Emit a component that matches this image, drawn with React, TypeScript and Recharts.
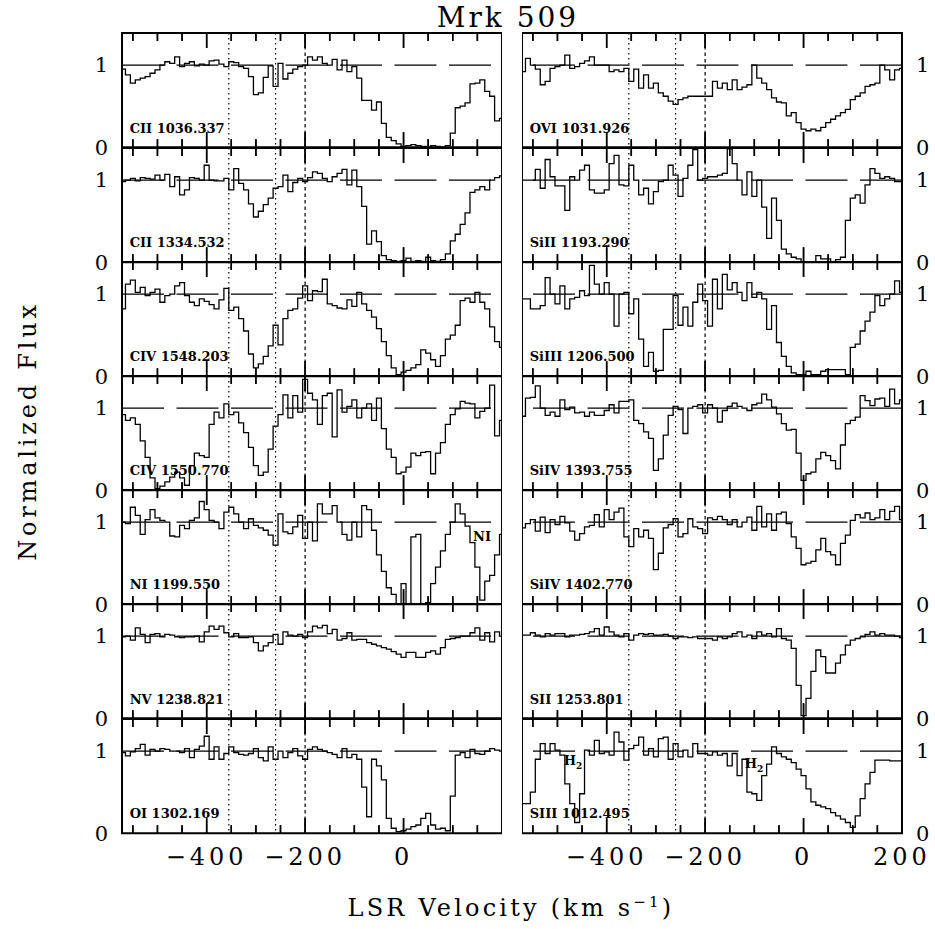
import { ComposedChart, Line, Scatter, XAxis, YAxis, ReferenceLine, ReferenceArea } from "recharts";

// velocity grid (km/s), shared by every panel
const VEL = [
  -570, -560, -550, -540, -530, -520, -510, -500, -490, -480,
  -470, -460, -450, -440, -430, -420, -410, -400, -390, -380,
  -370, -360, -350, -340, -330, -320, -310, -300, -290, -280,
  -270, -260, -250, -240, -230, -220, -210, -200, -190, -180,
  -170, -160, -150, -140, -130, -120, -110, -100, -90, -80,
  -70, -60, -50, -40, -30, -20, -10, 0, 10, 20,
  30, 40, 50, 60, 70, 80, 90, 100, 110, 120,
  130, 140, 150, 160, 170, 180, 190, 200,
];

const CII_1036 = [
  0.95, 0.88, 0.78, 0.82, 0.84, 0.86, 0.9, 0.94, 1.0, 1.04,
  1.02, 1.1, 0.98, 1.02, 1.04, 0.99, 1.01, 1.0, 1.05, 1.06,
  1.01, 0.98, 1.04, 1.03, 0.98, 0.96, 0.86, 0.64, 0.66, 0.85,
  0.99, 0.74, 1.02, 0.83, 0.9, 0.95, 0.98, 1.0, 1.1, 1.06,
  1.1, 1.02, 1.0, 1.07, 0.94, 1.06, 0.92, 0.98, 0.84, 0.57,
  0.57, 0.45, 0.55, 0.29, 0.12, 0.08, 0.04, 0.01, 0.02, 0.03,
  0.02, 0.01, 0.0, 0.02, 0.01, 0.0, 0.02, 0.17, 0.48, 0.5,
  0.54, 0.77, 0.78, 0.82, 0.68, 0.62, 0.32, 0.35,
];
const CII_1334 = [
  0.98, 1.0, 1.02, 0.99, 1.03, 1.02, 1.01, 1.06, 1.0, 1.07,
  0.92, 1.04, 0.82, 0.88, 1.03, 1.02, 1.0, 1.18, 1.0, 0.99,
  0.99, 1.02, 0.88, 1.14, 0.96, 0.88, 0.71, 0.55, 0.62, 0.7,
  0.78, 0.9, 0.92, 1.06, 0.86, 0.97, 1.02, 0.98, 1.03, 1.1,
  1.08, 1.02, 0.98, 1.04, 1.08, 1.13, 0.94, 1.12, 0.92, 0.68,
  0.22, 0.38, 0.25, 0.08, 0.03, 0.02, 0.01, 0.02, 0.05, 0.01,
  0.02, 0.01, 0.06, 0.02, 0.01, 0.03, 0.1, 0.26, 0.34, 0.46,
  0.6, 0.85, 0.88, 0.92, 0.88, 1.0, 1.03, 1.05,
];
const CIV_1548 = [
  0.82, 1.12, 1.17, 1.02, 1.08, 0.98, 1.02, 1.06, 0.9, 0.98,
  1.0, 1.1, 1.14, 0.98, 0.9, 0.86, 0.94, 0.91, 0.87, 0.82,
  0.93, 1.07, 0.8, 0.84, 0.7, 0.55, 0.27, 0.1, 0.15, 0.24,
  0.37, 0.62, 0.38, 0.7, 0.8, 0.82, 0.95, 1.1, 0.92, 1.04,
  1.03, 1.18, 0.88, 0.86, 0.83, 0.82, 0.93, 0.85, 1.02, 0.88,
  0.8, 0.72, 0.58, 0.42, 0.25, 0.1, 0.02, 0.05, 0.07, 0.1,
  0.14, 0.32, 0.28, 0.2, 0.12, 0.25, 0.45, 0.5, 0.62, 0.92,
  0.95, 0.9, 1.02, 0.9, 0.82, 0.6, 0.42, 0.35,
];
const CIV_1550 = [
  0.92, 0.85, 0.88, 0.8, 0.6, 0.4, 0.15, 0.02, 0.05, 0.1,
  0.16, 0.22, 0.15, 0.06, 0.3, 0.45, 0.42, 0.4, 0.8, 0.95,
  0.88, 1.05, 0.92, 0.95, 0.82, 0.7, 0.52, 0.3, 0.18, 0.22,
  0.5, 0.78, 0.92, 1.16, 0.88, 1.15, 0.95, 1.35, 1.18, 1.1,
  0.8, 1.15, 1.18, 0.65, 1.22, 0.95, 1.02, 1.1, 0.88, 1.0,
  1.05, 0.85, 1.12, 0.75, 0.5, 0.4, 0.2, 0.22, 0.28, 0.45,
  0.42, 0.46, 0.47, 0.2, 0.45, 0.58, 0.8, 0.92, 0.99, 1.08,
  1.06, 1.05, 0.88, 0.96, 1.0, 1.28, 0.66, 0.85,
];
const NI_1199 = [
  1.0, 0.98, 1.18, 1.08, 0.85, 1.03, 1.15, 1.05, 1.02, 1.0,
  0.83, 0.82, 0.96, 0.92, 1.02, 1.05, 1.25, 1.15, 1.02, 1.0,
  0.92, 1.12, 1.18, 1.1, 1.0, 0.92, 1.04, 0.96, 0.93, 0.9,
  0.84, 0.72, 1.1, 0.88, 0.86, 0.94, 1.08, 0.8, 1.0, 0.77,
  1.22, 1.1, 1.1, 1.2, 1.0, 0.85, 0.78, 1.0, 0.82, 1.2,
  1.15, 0.9, 0.6, 0.4, 0.2, 0.12, 0.0, 0.25, 0.0, 0.82,
  0.85, 0.0, 0.02, 0.25, 0.45, 0.65, 0.85, 1.0, 1.22, 1.1,
  0.95, 0.75, 0.45, 0.05, 0.28, 0.35, 0.6, 0.85,
];
const NV_1238 = [
  0.99, 1.0, 0.95, 1.1, 1.02, 0.92, 1.02, 1.03, 0.99, 1.02,
  1.01, 0.99, 0.98, 0.99, 0.99, 1.0, 0.93, 1.05, 1.12, 1.08,
  1.12, 1.04, 0.99, 1.03, 0.98, 0.98, 0.99, 0.92, 0.82, 0.88,
  0.92, 1.02, 0.9, 1.05, 1.01, 1.0, 1.02, 0.98, 1.05, 1.12,
  1.1, 1.13, 1.03, 1.08, 0.95, 0.97, 1.04, 0.95, 0.96, 0.96,
  0.92, 0.9, 0.88, 0.86, 0.84, 0.81, 0.78, 0.74, 0.8, 0.8,
  0.74, 0.74, 0.8, 0.82, 0.78, 0.86, 0.96, 0.97, 0.98, 1.0,
  1.0, 1.04, 1.1, 0.95, 1.04, 0.93, 1.05, 1.0,
];
const OI_1302 = [
  0.98, 0.94, 0.99, 1.03, 1.08, 0.95, 1.02, 1.0, 1.03, 1.02,
  1.0, 1.0, 0.98, 1.03, 0.92, 1.02, 1.06, 1.18, 0.9, 1.05,
  0.9, 0.97, 1.05, 0.98, 0.96, 0.95, 0.97, 1.03, 0.92, 0.88,
  1.05, 0.9, 1.0, 0.92, 0.98, 1.03, 0.94, 0.9, 1.02, 1.05,
  1.02, 1.0, 0.98, 0.96, 0.92, 1.03, 0.92, 0.96, 0.9, 0.56,
  0.2, 0.9, 0.82, 0.65, 0.18, 0.06, 0.02, 0.03, 0.05, 0.08,
  0.1, 0.18, 0.24, 0.1, 0.05, 0.06, 0.03, 0.45, 0.95, 0.98,
  0.92, 1.02, 0.97, 0.96, 1.0, 1.03, 1.01, 1.0,
];
const OVI_1031 = [
  0.92, 1.08, 1.0, 0.95, 0.76, 0.8, 0.96, 0.98, 1.0, 1.12,
  0.96, 0.98, 1.02, 1.05, 1.1, 1.0, 1.0, 1.0, 0.92, 0.94,
  0.92, 0.96, 0.8, 0.95, 0.72, 0.88, 0.72, 0.78, 0.66, 0.62,
  0.56, 0.52, 0.58, 0.6, 0.62, 0.62, 0.62, 0.62, 0.62, 0.8,
  0.72, 0.78, 0.7, 0.82, 0.7, 0.73, 0.76, 1.0, 0.84, 0.78,
  0.7, 0.6, 0.55, 0.54, 0.38, 0.42, 0.3, 0.22, 0.2, 0.22,
  0.2, 0.24, 0.3, 0.34, 0.38, 0.42, 0.46, 0.58, 0.62, 0.66,
  0.74, 0.76, 0.78, 1.0, 0.94, 0.82, 0.94, 0.96,
];
const SIII_1193 = [
  1.0, 1.0, 1.0, 1.13, 0.9, 1.25, 1.04, 0.93, 0.93, 0.63,
  1.04, 1.0, 1.12, 1.18, 0.88, 0.84, 0.84, 0.88, 1.2, 1.3,
  0.94, 0.93, 1.18, 1.0, 0.82, 0.9, 0.71, 0.86, 0.98, 1.0,
  1.18, 1.06, 0.8, 1.02, 1.18, 1.37, 1.0, 1.02, 1.04, 1.04,
  1.06, 1.08, 1.38, 1.2, 1.0, 0.82, 1.1, 0.8, 1.0, 0.67,
  0.29, 0.78, 0.51, 0.16, 0.1, 0.06, 0.04, 0.0, 0.0, 0.0,
  0.08, 0.04, 0.04, 0.0, 0.03, 0.06, 0.51, 0.78, 0.82, 0.72,
  0.94, 1.14, 1.08, 1.02, 1.04, 1.02, 0.98, 0.98,
];
const SIIII_1206 = [
  0.94, 0.94, 0.82, 0.82, 0.86, 1.2, 1.0, 0.88, 1.1, 0.82,
  0.94, 0.96, 1.04, 0.98, 1.35, 1.12, 1.0, 1.14, 1.0, 0.61,
  1.0, 1.02, 0.76, 0.94, 0.45, 0.12, 0.29, 0.06, 0.07, 0.57,
  0.57, 0.98, 0.62, 0.84, 0.61, 0.9, 1.12, 0.92, 0.61, 1.18,
  0.82, 1.24, 1.05, 1.14, 1.02, 0.92, 1.14, 0.96, 1.02, 0.94,
  0.57, 0.86, 0.41, 0.24, 0.12, 0.04, 0.02, 0.02, 0.06, 0.02,
  0.02, 0.06, 0.08, 0.08, 0.08, 0.08, 0.02, 0.35, 0.39, 0.55,
  0.67, 0.78, 0.98, 0.86, 0.94, 1.0, 1.16, 1.02,
];
const SIIV_1393 = [
  0.9, 1.12, 1.13, 1.27, 1.0, 0.91, 0.95, 0.9, 1.1, 0.98,
  1.01, 0.94, 0.95, 0.9, 0.95, 0.91, 0.91, 0.97, 1.04, 0.94,
  1.08, 1.08, 1.1, 0.85, 0.81, 0.71, 0.63, 0.24, 0.38, 0.67,
  0.91, 1.02, 0.98, 0.69, 1.0, 1.02, 1.04, 0.94, 1.04, 1.0,
  0.83, 0.97, 1.02, 1.06, 1.02, 1.0, 0.97, 1.04, 1.06, 1.17,
  1.1, 1.01, 0.93, 0.81, 0.73, 0.74, 0.45, 0.12, 0.2, 0.22,
  0.38, 0.46, 0.42, 0.36, 0.26, 0.55, 0.81, 0.85, 0.89, 1.15,
  1.09, 1.03, 1.11, 1.12, 1.02, 1.23, 1.05, 1.1,
];
const SIIV_1402 = [
  0.93, 0.98, 1.03, 0.89, 1.06, 0.87, 1.03, 0.97, 1.07, 0.99,
  0.89, 0.78, 0.86, 0.94, 0.96, 1.09, 0.94, 1.15, 1.03, 1.12,
  1.17, 0.82, 0.7, 0.92, 0.82, 0.9, 0.8, 0.42, 0.62, 0.93,
  0.97, 1.04, 0.82, 0.86, 1.04, 0.94, 0.92, 0.86, 1.05, 1.03,
  1.07, 1.03, 0.97, 1.03, 0.94, 1.0, 1.06, 0.9, 1.19, 0.94,
  1.1, 0.9, 1.1, 1.12, 0.98, 0.82, 0.68, 0.48, 0.5, 0.52,
  0.66, 0.8, 0.64, 0.6, 0.48, 0.74, 0.84, 1.02, 1.09, 1.05,
  1.11, 1.03, 1.05, 1.15, 1.03, 1.13, 1.19, 1.03,
];
const SII_1253 = [
  1.01, 1.01, 1.04, 1.01, 0.99, 1.03, 1.01, 1.03, 1.03, 0.99,
  1.01, 1.01, 1.02, 1.03, 1.05, 1.09, 1.01, 1.11, 1.05, 1.01,
  0.99, 1.03, 0.95, 1.01, 1.03, 1.02, 1.03, 1.01, 1.01, 1.02,
  1.0, 0.97, 0.99, 0.99, 0.98, 0.99, 0.97, 0.97, 0.97, 0.95,
  0.99, 0.97, 0.99, 1.03, 1.05, 0.99, 1.01, 0.97, 1.05, 1.01,
  1.03, 0.99, 1.09, 0.97, 0.95, 0.85, 0.4, 0.03, 0.24, 0.57,
  0.83, 0.75, 0.55, 0.55, 0.67, 0.77, 0.89, 0.95, 0.97, 0.99,
  1.02, 1.05, 1.01, 1.03, 1.01, 1.01, 1.0, 0.98,
];
const SIII_1012 = [
  0.36, 0.36, 0.5, 0.9, 1.09, 0.97, 1.09, 1.01, 0.95, 0.6,
  0.36, 0.13, 0.48, 1.01, 0.95, 1.13, 0.97, 0.99, 0.95, 1.23,
  1.11, 0.89, 1.03, 1.07, 1.17, 0.95, 1.03, 0.93, 1.15, 1.17,
  0.9, 1.09, 0.93, 1.01, 0.93, 1.09, 0.97, 0.97, 0.95, 0.99,
  0.95, 0.97, 0.82, 0.97, 0.7, 0.9, 0.5, 0.48, 0.4, 0.7,
  0.84, 1.05, 0.97, 0.93, 0.9, 0.86, 0.78, 0.7, 0.54, 0.38,
  0.34, 0.32, 0.3, 0.25, 0.21, 0.17, 0.13, 0.07, 0.21, 0.42,
  0.6, 0.74, 0.89, 0.89, 0.89, 0.88, 0.88, 0.88,
];

const LEFT = [
  { label: "CII 1036.337", flux: CII_1036 },
  { label: "CII 1334.532", flux: CII_1334 },
  { label: "CIV 1548.203", flux: CIV_1548 },
  { label: "CIV 1550.770", flux: CIV_1550 },
  { label: "NI 1199.550", flux: NI_1199 },
  { label: "NV 1238.821", flux: NV_1238 },
  { label: "OI 1302.169", flux: OI_1302 },
];
const RIGHT = [
  { label: "OVI 1031.926", flux: OVI_1031 },
  { label: "SiII 1193.290", flux: SIII_1193 },
  { label: "SiIII 1206.500", flux: SIIII_1206 },
  { label: "SiIV 1393.755", flux: SIIV_1393 },
  { label: "SiIV 1402.770", flux: SIIV_1402 },
  { label: "SII 1253.801", flux: SII_1253 },
  { label: "SIII 1012.495", flux: SIII_1012 },
];

const TICKS = [-550, -500, -450, -400, -350, -300, -250, -200, -150, -100, -50, 0, 50, 100, 150];
const MAJOR = [-400, -200, 0];
const MARKS = [-355, -260, -200];
const XMIN = -572;
const XMAX = 200;
const YMAX = 1.39;

const SERIF = "'DejaVu Serif', serif";
const PW = 380;
const PH = 114.2;
const TOP0 = 33.3;
const LX = 121.7;
const RX = 521.7;
const YW_L = 40;
const YW_R = 33;
const LAB_H = 45;
const PAD = 14; // room above/below so the 0/1 labels on the borders are not clipped
const PX = PH / YMAX; // pixels per flux unit, for tick lengths

const minus = (v: number) => (v < 0 ? "\u2212" + Math.abs(v) : String(v));

// inward tick marks along the bottom (y=0) and top (y=YMAX) edges
const BOT_TICKS = TICKS.map((t) => ({ v: t, f: 0 }));
const TOP_TICKS = TICKS.map((t) => ({ v: t, f: YMAX }));
const tickLen = (v: number) => (MAJOR.includes(v) ? 15 : 8);
const botShape = (s: any) => (
  <line x1={s.cx} x2={s.cx} y1={s.cy} y2={s.cy - tickLen(s.payload.v)} stroke="#000" strokeWidth={1.5} />
);
const topShape = (s: any) => (
  <line x1={s.cx} x2={s.cx} y1={s.cy} y2={s.cy + tickLen(s.payload.v)} stroke="#000" strokeWidth={1.5} />
);

function Panel({ p, side, row }: { p: { label: string; flux: number[] }; side: "L" | "R"; row: number }) {
  const data = VEL.map((v, i) => ({ v, f: p.flux[i] }));
  const last = row === 6;
  const yw = side === "L" ? YW_L : YW_R;
  const left = side === "L" ? LX - yw : RX;
  return (
    <div style={{ position: "absolute", left, top: TOP0 + row * PH - PAD }}>
      <ComposedChart
        width={PW + yw}
        height={PH + PAD + (last ? LAB_H : PAD)}
        data={data}
        margin={{ top: PAD, right: 0, bottom: last ? 0 : PAD, left: 0 }}
      >
        <XAxis dataKey="v" type="number" domain={[XMIN, XMAX]} allowDataOverflow hide orientation="top" height={0} />
        {last && (
          <XAxis xAxisId="lab" dataKey="v" type="number" domain={[XMIN, XMAX]} allowDataOverflow orientation="bottom"
            height={LAB_H} ticks={side === "L" ? [-400, -200, 0] : [-400, -200, 0, 200]} interval={0}
            tickSize={0} tickMargin={15} axisLine={false} tickLine={false} tickFormatter={minus}
            tick={{ fontSize: 24, fill: "#000", fontFamily: SERIF, letterSpacing: 4 }} />
        )}
        <YAxis type="number" domain={[0, YMAX]} orientation={side === "L" ? "left" : "right"} width={yw}
          ticks={[0, 1]} interval={0} tickSize={0} tickMargin={14} axisLine={false} tickLine={false}
          tick={{ fontSize: 21, fill: "#000", fontFamily: SERIF }} />
        <ReferenceLine y={1} stroke="#000" strokeWidth={1.2} strokeDasharray="42 12.5" />
        {MARKS.map((m, i) => (
          <ReferenceLine key={m} x={m} stroke="#000" strokeWidth={1.2} strokeDasharray={i === 2 ? "3.5 3" : "1.5 3.5"} />
        ))}
        {TICKS.map((t) => (
          <ReferenceLine key={"rb" + t} ifOverflow="visible" stroke="#000" strokeWidth={1.5}
            segment={[{ x: t, y: 0 }, { x: t, y: tickLen(t) / PX }]} />
        ))}
        {TICKS.map((t) => (
          <ReferenceLine key={"rt" + t} ifOverflow="visible" stroke="#000" strokeWidth={1.5}
            segment={[{ x: t, y: YMAX }, { x: t, y: YMAX - tickLen(t) / PX }]} />
        ))}
        <Scatter data={BOT_TICKS} dataKey="f" shape={botShape} isAnimationActive={false} />
        <Scatter data={TOP_TICKS} dataKey="f" shape={topShape} isAnimationActive={false} />
        <Line dataKey="f" type="step" dot={false} stroke="#000" strokeWidth={1.3} isAnimationActive={false} />
        <ReferenceArea x1={XMIN} x2={XMAX} y1={0} y2={YMAX} fill="none" stroke="#000" strokeWidth={2} ifOverflow="visible" />
      </ComposedChart>
    </div>
  );
}

export default function App() {
  return (
    <div style={{ position: "absolute", left: 0, top: 0, width: 935, height: 929, background: "#fff", overflow: "hidden" }}>
      {LEFT.map((p, i) => <Panel key={p.label} p={p} side="L" row={i} />)}
      {RIGHT.map((p, i) => <Panel key={p.label} p={p} side="R" row={i} />)}
      <svg width={935} height={929} style={{ position: "absolute", left: 0, top: 0, pointerEvents: "none" }} fontFamily={SERIF}>
        <text x={508} y={27} textAnchor="middle" fontSize={28} letterSpacing={3}>Mrk 509</text>
        <text x={511} y={916} textAnchor="middle" fontSize={24} letterSpacing={3.2}>
          LSR Velocity (km s<tspan dy={-9} fontSize={15}>{"\u22121"}</tspan><tspan dy={9}>)</tspan>
        </text>
        <text transform="translate(36,431) rotate(-90)" textAnchor="middle" fontSize={24} letterSpacing={3.8}>Normalized Flux</text>
        {LEFT.map((p, i) => (
          <text key={p.label} x={LX + 8} y={TOP0 + (i + 1) * PH - 15} fontSize={13} fontWeight="bold">{p.label}</text>
        ))}
        {RIGHT.map((p, i) => (
          <text key={p.label} x={RX + 8} y={TOP0 + (i + 1) * PH - 15} fontSize={13} fontWeight="bold">{p.label}</text>
        ))}
        <text x={482} y={541} textAnchor="middle" fontSize={13} fontWeight="bold">NI</text>
        <text x={573} y={765} textAnchor="middle" fontSize={13} fontWeight="bold">H<tspan dy={4} fontSize={9}>2</tspan></text>
        <text x={754} y={768} textAnchor="middle" fontSize={13} fontWeight="bold">H<tspan dy={4} fontSize={9}>2</tspan></text>
      </svg>
    </div>
  );
}
